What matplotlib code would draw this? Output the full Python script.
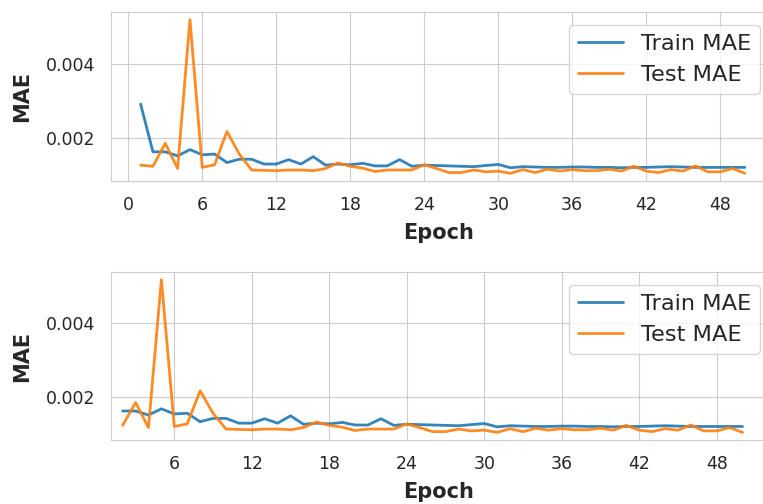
import numpy as np
import seaborn as sns
from matplotlib import pyplot as plt
from matplotlib.ticker import MultipleLocator

# values
epochs = list(range(1, 51))
train_mae = [0.00291, 0.00162, 0.00162, 0.00151, 0.00168, 0.00154, 0.00156, 0.00133, 0.00142, 0.00142,
             0.00129, 0.00129, 0.00141, 0.00129, 0.00149, 0.00126, 0.00129, 0.00127, 0.00131, 0.00124,
             0.00124, 0.00141, 0.00123, 0.00126, 0.00125, 0.00124, 0.00123, 0.00122, 0.00125, 0.00128,
             0.00119, 0.00122, 0.00121, 0.00120, 0.00120, 0.00121, 0.00121, 0.00120, 0.00120, 0.00119,
             0.00120, 0.00120, 0.00121, 0.00122, 0.00121, 0.00120, 0.00120, 0.00120, 0.00120, 0.00120]
test_mae = [0.00126, 0.00123, 0.00185, 0.00117, 0.00519, 0.00120, 0.00127, 0.00217, 0.00156, 0.00113,
            0.00112, 0.00111, 0.00113, 0.00113, 0.00111, 0.00117, 0.00132, 0.00123, 0.00118, 0.00109,
            0.00113, 0.00113, 0.00113, 0.00127, 0.00117, 0.00106, 0.00106, 0.00113, 0.00108, 0.00110,
            0.00104, 0.00114, 0.00106, 0.00115, 0.00110, 0.00114, 0.00111, 0.00111, 0.00115, 0.00110,
            0.00123, 0.00110, 0.00106, 0.00114, 0.00110, 0.00124, 0.00108, 0.00108, 0.00117, 0.00104]

sns.set_style("whitegrid")
plt.rcParams['font.family'] = ['DejaVu Sans']
plt.rcParams['axes.edgecolor'] = '.8'
plt.rcParams['grid.color'] = '.8'

fig = plt.figure(figsize=(7.63, 5.04), dpi=100)
ax_top = fig.add_axes([0.1455, 0.6409, 0.8598, 0.3353])
ax_bot = fig.add_axes([0.1455, 0.127, 0.8598, 0.3333])

panels = [
    (ax_top, 0, (-1.4, 51.8)),   # full run
    (ax_bot, 1, (1.1, 51.9)),    # first epoch dropped
]

for ax, start, xlim in panels:
    ax.plot(epochs[start:], train_mae[start:], color='#1f77b4', lw=2, alpha=0.9, label='Train MAE')
    ax.plot(epochs[start:], test_mae[start:], color='#ff7f0e', lw=2, alpha=0.9, label='Test MAE')
    ax.set_xlim(*xlim)
    ax.xaxis.set_major_locator(MultipleLocator(6))
    ax.set_yticks([0.002, 0.004])
    ax.tick_params(axis='both', length=0, pad=11, labelsize=12.5, labelcolor='.15')
    ax.set_xlabel('Epoch', fontsize=15, fontweight='bold', labelpad=6, color='.15')
    ax.set_ylabel('MAE', fontsize=15, fontweight='bold', labelpad=10, color='.15')
    ax.legend(loc='upper right', bbox_to_anchor=(0.989, 0.925), borderaxespad=0,
              fontsize=16.2, edgecolor='.8', labelcolor='.15')
    for sp in ax.spines.values():
        sp.set_color('.8')

plt.savefig('out.png', dpi=100)
